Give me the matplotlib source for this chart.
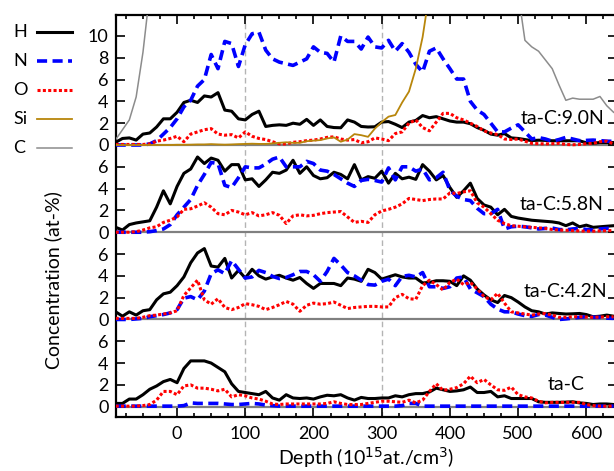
"""
Stacked depth profiles of H, N, O (Si, C) for the ta-C films
"""
import numpy as np
import matplotlib
matplotlib.use("Agg")
import matplotlib.pyplot as plt
from matplotlib.lines import Line2D

plt.rcParams['font.family'] = ['Lato', 'DejaVu Sans']

#Depth sampling of the profiles (10^15 at./cm^3)
depth = np.arange(-90, 650, 10)

#ta-C:9.0N
h90 = [0.25, 0.6, 0.65, 0.45, 1.0, 1.1, 1.65, 2.4, 2.4, 3.0,
       3.9, 4.1, 3.9, 4.5, 4.4, 4.8, 3.2, 3.1, 2.4, 2.3,
       2.8, 3.1, 1.7, 1.8, 1.85, 1.8, 2.0, 1.9, 2.35, 1.8,
       2.3, 1.7, 1.6, 1.58, 2.3, 2.1, 1.7, 1.65, 1.67, 2.1,
       2.15, 1.9, 1.6, 2.1, 2.25, 2.7, 2.5, 2.6, 2.4, 2.2,
       2.1, 2.1, 1.95, 1.6, 1.35, 1.0, 0.9, 1.05, 0.65, 0.6,
       0.5, 0.4, 0.44, 0.42, 0.39, 0.39, 0.39, 0.39, 0.39, 0.2,
       0.16, 0.23, 0.23, 0.23]
n90 = [0, 0, 0, 0, 0, 0.1, 0.4, 1.0, 1.6, 2.4,
       3.5, 4.1, 5.4, 6.0, 8.3, 7.0, 9.5, 9.3, 7.2, 9.2,
       10.2, 10.35, 8.7, 7.9, 7.6, 7.45, 7.3, 7.6, 7.9, 9.0,
       8.5, 8.4, 7.6, 10.0, 9.5, 9.5, 8.8, 9.9, 9.0, 8.9,
       9.6, 8.6, 9.3, 8.5, 7.4, 6.7, 8.6, 8.9, 7.9, 7.0,
       6.05, 6.05, 4.0, 3.2, 2.8, 2.0, 1.2, 1.2, 1.55, 1.85,
       1.2, 0.55, 0.68, 0.55, 0.35, 0.5, 0.7, 0.55, 0.4, 0.42,
       0.45, 0.4, 0.35, 0.33]
o90 = [0.05, 0.05, 0.05, 0.05, 0.05, 0.1, 0.35, 0.45, 0.6, 0.8,
       0.3, 1.0, 1.2, 1.4, 1.5, 1.0, 0.9, 0.95, 0.65, 1.2,
       0.8, 0.6, 0.5, 0.3, 0.1, 0.1, 0.25, 0.3, 0.4, 0.45,
       0.55, 0.7, 0.75, 0.55, 0.45, 0.5, 0.2, 0.3, 0.65, 0.55,
       0.4, 1.05, 1.2, 2.0, 2.3, 1.6, 1.3, 2.1, 2.9, 2.9,
       2.5, 2.3, 2.0, 1.7, 1.3, 1.1, 0.95, 0.55, 0.5, 0.55,
       0.35, 0.15, 0.12, 0.1, 0.12, 0.15, 0.05, 0.02, 0.05, 0.12,
       0.15, 0.3, 0.35, 0.1]
si90 = [0, 0, 0, 0, 0, 0, 0, 0, 0, 0.02,
        0.02, 0.03, 0.05, 0.05, 0.08, 0.05, 0.03, 0.05, 0.08, 0.1,
        0.12, 0.1, 0.1, 0.15, 0.2, 0.25, 0.2, 0.2, 0.35, 0.4,
        0.45, 0.6, 0.7, 0.3, 0.5, 1.0, 0.9, 0.75, 1.5, 2.1,
        2.6, 2.75, 3.9, 4.9, 7.0, 9.9, 14, 40, 60, 75,
        80, 82, 84, 85, 86, 87, 88, 88, 89, 89,
        90, 90, 90, 90, 90, 90, 90, 90, 90, 90,
        90, 90, 90, 90]
c90 = [0.5, 1.4, 2.3, 4.4, 8.5, 14, 40, 70, 80, 85,
       85, 85, 85, 85, 85, 85, 85, 85, 85, 85,
       85, 85, 85, 85, 85, 85, 85, 85, 85, 85,
       85, 85, 85, 85, 85, 85, 85, 85, 85, 85,
       85, 85, 85, 85, 85, 85, 85, 85, 85, 85,
       85, 85, 85, 85, 85, 85, 85, 85, 85, 14,
       9.6, 9.0, 8.6, 7.8, 7.0, 5.5, 4.1, 4.3, 4.2, 4.2,
       4.2, 4.45, 3.6, 3.0]

#ta-C:5.8N
h58 = [0.45, 0.2, 0.7, 0.85, 0.95, 1.05, 2.3, 3.8, 2.6, 4.2,
       5.4, 5.8, 6.9, 6.3, 6.8, 6.6, 5.6, 6.2, 6.2, 4.8,
       4.9, 4.2, 4.8, 5.5, 5.4, 5.7, 6.6, 5.4, 6.0, 5.2,
       4.9, 5.0, 5.5, 5.3, 4.9, 6.2, 4.8, 5.1, 4.95, 5.6,
       4.5, 5.4, 4.9, 5.05, 4.85, 6.2, 5.6, 4.8, 5.2, 4.1,
       3.2, 3.8, 4.5, 3.1, 2.5, 2.3, 1.6, 2.1, 1.45, 1.3,
       1.2, 1.1, 1.05, 1.0, 0.95, 0.85, 0.6, 0.85, 0.5, 0.65,
       0.45, 0.5, 0.55, 0.6]
n58 = [0, 0, 0, 0, 0, 0.05, 0.15, 0.3, 0.7, 1.6,
       2.3, 3.0, 4.3, 5.3, 6.4, 6.3, 4.3, 4.1, 5.0, 6.0,
       5.9, 5.9, 6.25, 6.7, 6.9, 6.0, 6.0, 6.0, 6.5, 6.3,
       5.7, 5.6, 5.3, 4.9, 4.5, 4.2, 4.75, 4.85, 4.75, 4.6,
       5.9, 4.8, 6.0, 6.0, 5.6, 5.8, 4.8, 5.0, 5.5, 3.85,
       3.3, 3.0, 2.9, 2.2, 1.7, 1.7, 2.1, 0.3, 0.5, 0.55,
       0.5, 0.4, 0.3, 0.35, 0.38, 0.25, 0.22, 0.3, 0.35, 0.25,
       0.22, 0.3, 0.35, 0.4]
o58 = [0, 0, 0, 0.05, 0.2, 0.4, 0.5, 0.9, 1.1, 1.4,
       2.1, 2.15, 2.4, 2.7, 2.3, 1.7, 1.6, 2.0, 1.85, 1.6,
       1.8, 1.5, 1.6, 1.8, 1.55, 0.8, 1.5, 1.6, 1.5, 1.55,
       1.7, 1.8, 1.85, 1.9, 1.4, 0.9, 1.0, 0.9, 1.6, 1.95,
       2.1, 2.3, 2.6, 3.1, 3.0, 2.9, 3.0, 3.05, 3.05, 3.6,
       3.55, 3.7, 3.8, 2.7, 2.3, 1.7, 1.1, 0.8, 0.6, 0.55,
       0.5, 0.45, 0.4, 0.35, 0.25, 0.2, 0.18, 0.15, 0.12, 0.1,
       0.1, 0.12, 0.15, 0.15]

#ta-C:4.2N
h42 = [0.7, 0.3, 0.7, 0.4, 0.8, 0.9, 1.8, 2.35, 2.5, 3.1,
       3.9, 5.2, 6.1, 6.5, 4.9, 4.8, 5.6, 3.8, 4.5, 3.8,
       4.6, 4.0, 3.7, 3.9, 4.05, 3.8, 3.6, 3.85, 3.3, 2.85,
       3.3, 3.3, 3.3, 3.1, 3.8, 3.7, 3.5, 4.6, 4.3, 3.7,
       3.9, 4.1, 3.9, 3.8, 3.8, 3.35, 3.4, 3.55, 3.55, 3.5,
       3.1, 4.0, 3.6, 2.8, 2.25, 1.8, 1.55, 2.2, 2.0, 1.6,
       1.15, 0.8, 0.7, 0.5, 0.6, 0.55, 0.5, 0.52, 0.55, 0.45,
       0.25, 0.3, 0.4, 0.3]
n42 = [0, 0, 0, 0.05, 0.1, 0.25, 0.35, 0.45, 0.6, 0.9,
       1.95, 2.1, 1.8, 2.6, 4.2, 4.55, 4.2, 5.4, 4.6, 3.8,
       3.9, 4.5, 4.3, 3.95, 3.75, 3.85, 4.1, 4.4, 4.4, 4.1,
       3.5, 4.4, 5.6, 5.0, 4.3, 4.0, 3.6, 3.2, 3.15, 3.5,
       3.7, 3.1, 3.95, 4.05, 3.9, 4.3, 3.0, 3.0, 2.85, 3.0,
       3.8, 3.9, 2.8, 2.45, 2.1, 1.4, 0.95, 0.7, 0.7, 0.5,
       0.35, 0.28, 0.45, 0.4, 0.2, 0.0, 0.05, 0.12, 0.2, 0.25,
       0.2, 0.2, 0.12, 0.1]
o42 = [0.1, 0.1, 0.1, 0.1, 0.2, 0.35, 0.4, 0.5, 0.6, 0.8,
       2.2, 2.9, 3.6, 1.8, 1.4, 1.9, 1.1, 0.9, 1.1, 1.45,
       1.35, 1.2, 0.9, 1.1, 1.35, 1.65, 1.4, 0.75, 1.3, 1.5,
       1.4, 1.45, 1.6, 1.3, 1.0, 1.1, 1.15, 1.2, 1.2, 1.15,
       1.15, 2.0, 2.3, 1.9, 1.85, 3.1, 3.6, 3.2, 2.7, 3.4,
       3.7, 3.2, 3.4, 2.8, 2.1, 1.8, 2.4, 1.5, 0.7, 0.6,
       0.5, 0.4, 0.5, 0.55, 0.4, 0.2, 0.2, 0.25, 0.25, 0.22,
       0.2, 0.22, 0.25, 0.25]

#ta-C
h0 = [0.3, 0.3, 0.7, 0.7, 1.1, 1.6, 1.9, 2.3, 2.5, 2.2,
      3.5, 4.2, 4.2, 4.2, 4.0, 3.6, 3.2, 2.1, 1.4, 1.3,
      1.2, 1.1, 1.4, 0.8, 0.6, 1.1, 0.8, 0.75, 0.8, 0.7,
      0.9, 1.05, 1.0, 1.1, 0.8, 0.6, 0.85, 0.75, 0.75, 0.8,
      0.8, 1.0, 0.9, 1.1, 1.2, 1.2, 1.35, 1.7, 1.55, 1.4,
      1.45, 1.55, 1.8, 1.3, 1.3, 1.4, 0.9, 1.0, 0.75, 0.75,
      0.75, 0.75, 0.45, 0.4, 0.4, 0.4, 0.42, 0.45, 0.35, 0.3,
      0.2, 0.25, 0.25, 0.2]
n0 = [0.05, 0.05, 0.05, 0.05, 0.05, 0.05, 0.05, 0.05, 0.05, 0.05,
      0.1, 0.35, 0.3, 0.3, 0.3, 0.3, 0.25, 0.2, 0.2, 0.25,
      0.3, 0.25, 0.15, 0.1, 0.05, 0.05, 0.05, 0.05, 0.05, 0.05,
      0.05, 0.05, 0.05, 0.05, 0.05, 0.05, 0.05, 0.05, 0.05, 0.05,
      0.05, 0.05, 0.1, 0.3, 0.3, 0.05, 0.05, 0.05, 0.05, 0.05,
      0.05, 0.05, 0.05, 0.05, 0.05, 0.05, 0.05, 0.05, 0.05, 0.05,
      0.05, 0.05, 0.05, 0.05, 0.05, 0.05, 0.05, 0.05, 0.05, 0.05,
      0.05, 0.05, 0.05, 0.05]
o0 = [0.05, 0.05, 0.05, 0.05, 0.1, 0.2, 0.6, 1.4, 1.4, 1.1,
      1.9, 2.0, 1.7, 1.7, 1.6, 1.45, 1.6, 0.9, 1.1, 1.0,
      0.8, 0.7, 0.5, 0.25, 0.2, 0.25, 0.25, 0.25, 0.25, 0.25,
      0.25, 0.3, 0.45, 0.3, 0.2, 0.2, 0.2, 0.3, 0.4, 0.5,
      0.5, 0.45, 0.4, 0.6, 0.35, 0.6, 1.4, 2.1, 1.5, 1.6,
      1.75, 2.1, 2.8, 2.2, 2.5, 2.0, 1.55, 1.5, 1.8, 1.1,
      0.9, 0.8, 0.5, 0.35, 0.4, 0.4, 0.4, 0.4, 0.4, 0.2,
      0.1, 0.05, 0.05, 0.05]

#panels top to bottom: name, vertical offset, tick labels, label position
panelNames = ["ta-C:9.0N", "ta-C:5.8N", "ta-C:4.2N", "ta-C"]
panelOffsets = [24, 16, 8, 0]
panelTicks = [[0, 2, 4, 6, 8, 10], [0, 2, 4, 6], [0, 2, 4, 6], [0, 2, 4, 6]]
panelData = [(h90, n90, o90), (h58, n58, o58), (h42, n42, o42), (h0, n0, o0)]

elements = ["H", "N", "O", "Si", "C"]
styles = {
    "H": dict(color="black", lw=2.2, ls="-"),
    "N": dict(color="#0000ff", lw=2.6, ls=(0, (2.8, 1.5))),
    "O": dict(color="#ff0000", lw=2.2, ls=(0, (1.0, 0.75))),
    "Si": dict(color="#b8860b", lw=1.3, ls="-"),
    "C": dict(color="#8c8c8c", lw=1.1, ls="-"),
}


def makePlot():
    """stacked depth profiles"""
    fig = plt.figure(figsize=(6.14, 4.71), dpi=100)
    ax = fig.add_axes([0.1884, 0.1157, 0.8165, 0.8531])

    #guide lines
    for xv in [100, 300]:
        ax.axvline(xv, color="#b4b4b4", lw=1.0, ls=(0, (4, 2.5)), zorder=1)
    for off in panelOffsets:
        ax.axhline(off, color="#808080", lw=1.6, zorder=1)

    #profiles
    for name, off, series in zip(panelNames, panelOffsets, panelData):
        for el, vals in zip(["H", "N", "O"], series):
            ax.plot(depth, np.array(vals) + off, zorder=3, **styles[el])
    ax.plot(depth, np.array(si90) + panelOffsets[0], zorder=3, **styles["Si"])
    ax.plot(depth, np.array(c90) + panelOffsets[0], zorder=3, **styles["C"])

    #panel labels
    labelPos = [(627, 26.4), (625, 18.5), (630, 10.55), (598, 2.0)]
    for name, (lx, ly) in zip(panelNames, labelPos):
        ax.text(lx, ly, name, ha="right", va="center", fontsize=14, zorder=4)

    #axes
    ax.set_xlim(-90, 645)
    ax.set_ylim(-0.9, 35.95)
    tickPos = []
    tickLab = []
    for off, ticks in zip(panelOffsets, panelTicks):
        for t in ticks:
            tickPos.append(off + t)
            tickLab.append(str(t))
    ax.set_yticks(tickPos, tickLab)
    ax.set_xticks([0, 100, 200, 300, 400, 500, 600])
    ax.set_xticks(np.arange(-75, 650, 25), minor=True)
    ax.tick_params(which="both", direction="in", top=True, right=True, width=1.2, labelsize=13)
    ax.tick_params(which="major", length=6.5)
    ax.tick_params(which="minor", length=3.2)
    ax.tick_params(axis="x", pad=7)
    ax.tick_params(axis="y", pad=5)
    for sp in ax.spines.values():
        sp.set_linewidth(1.6)

    ax.set_xlabel("Depth (10$^{15}$at./cm$^{3}$)", fontsize=14)
    ax.xaxis.label.set_va("center")
    ax.xaxis.set_label_coords(0.5, -0.103)
    ax.set_ylabel("Concentration (at-%)", fontsize=14)
    ax.yaxis.label.set_va("center")
    ax.yaxis.set_label_coords(-0.125, 0.34)

    #legend drawn by hand: label on the left, line sample on the right
    W, H = 614.0, 471.0
    rowY = [31.7, 60.8, 89.9, 119.0, 148.1]
    for el, ry in zip(elements, rowY):
        fy = 1 - ry / H
        fig.text(13 / W, fy, el, ha="left", va="center", fontsize=13)
        fig.add_artist(Line2D([37 / W, 72 / W], [fy, fy], transform=fig.transFigure, **styles[el]))

    fig.savefig("out.png", dpi=100)
    plt.close(fig)


if __name__ == "__main__":
    makePlot()
